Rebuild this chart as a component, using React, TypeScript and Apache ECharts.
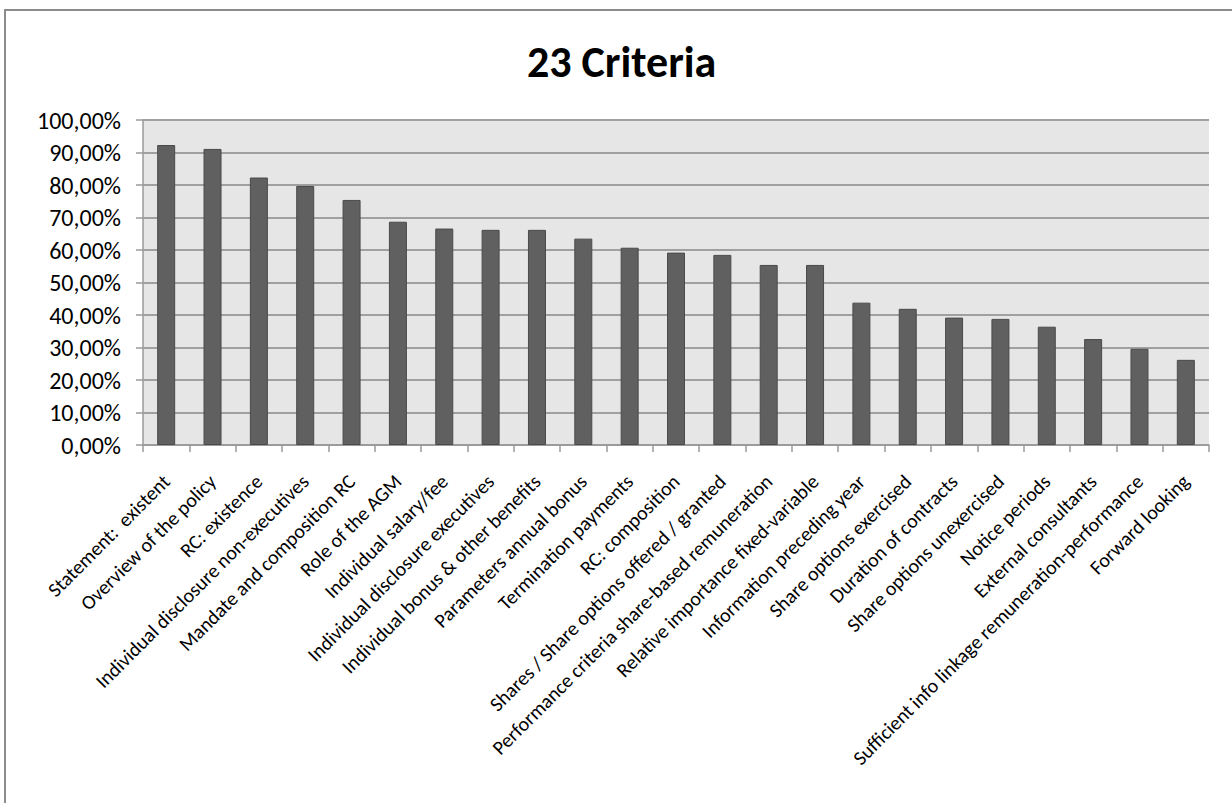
import React, { useEffect, useRef } from "react";
import * as echarts from "echarts";

const categories: string[] = [
  "Statement:  existent",
  "Overview of the policy",
  "RC: existence",
  "Individual disclosure non-executives",
  "Mandate and composition RC",
  "Role of the AGM",
  "Individual salary/fee",
  "Individual disclosure executives",
  "Individual bonus & other benefits",
  "Parameters annual bonus",
  "Termination payments",
  "RC: composition",
  "Shares / Share options offered / granted",
  "Performance criteria share-based remuneration",
  "Relative importance fixed-variable",
  "Information preceding year",
  "Share options exercised",
  "Duration of contracts",
  "Share options unexercised",
  "Notice periods",
  "External consultants",
  "Sufficient info linkage remuneration-performance",
  "Forward looking",
];

const values: number[] = [
  0.923, 0.911, 0.823, 0.797, 0.754, 0.687, 0.666, 0.662, 0.662, 0.635, 0.607,
  0.592, 0.585, 0.554, 0.554, 0.438, 0.419, 0.392, 0.388, 0.364, 0.326, 0.296,
  0.262,
];

const titleText = "23 Criteria";
const yMin = 0;
const yMax = 1;
const yStep = 0.1;

const FONT = "Carlito, Calibri, 'Liberation Sans Narrow', 'Open Sans', sans-serif";

export default function App() {
  const ref = useRef<HTMLDivElement>(null);
  useEffect(() => {
    if (!ref.current) return;
    const chart = echarts.init(ref.current, undefined, { renderer: "svg" });
    chart.setOption({
      animation: false,
      backgroundColor: "#ffffff",
      textStyle: { fontFamily: FONT },
      title: {
        text: titleText,
        left: 522,
        top: 35,
        textStyle: { fontFamily: FONT, fontSize: 44, fontWeight: "bold", color: "#000" },
      },
      graphic: [
        {
          type: "rect",
          shape: { x: 5, y: 10, width: 1260, height: 820 },
          style: { fill: "none", stroke: "#8c8c8c", lineWidth: 2 },
          silent: true,
        },
      ],
      grid: {
        left: 143,
        right: 23,
        top: 120,
        bottom: 358,
        show: true,
        backgroundColor: "#e6e6e6",
        borderWidth: 0,
      },
      xAxis: {
        type: "category",
        data: categories,
        axisLine: { show: true, lineStyle: { color: "#9a9a9a", width: 1.5 } },
        axisTick: { show: true, length: 7, lineStyle: { color: "#9a9a9a", width: 1.5 } },
        axisLabel: {
          interval: 0,
          rotate: 45,
          fontSize: 20,
          color: "#000",
          fontFamily: FONT,
          margin: 33,
        },
      },
      yAxis: {
        type: "value",
        min: yMin,
        max: yMax,
        interval: yStep,
        axisLine: { show: true, lineStyle: { color: "#9a9a9a", width: 1.5 } },
        axisTick: { show: true, length: 7, lineStyle: { color: "#9a9a9a", width: 1.5 } },
        splitLine: { show: true, lineStyle: { color: "#a0a0a0", width: 2 } },
        axisLabel: {
          fontSize: 24,
          color: "#000",
          fontFamily: FONT,
          margin: 22,
          formatter: (v: number) => (v * 100).toFixed(2).replace(".", ",") + "%",
        },
      },
      series: [
        {
          type: "bar",
          data: values,
          barWidth: 18,
          itemStyle: { color: "#606060", borderColor: "#4a4a4a", borderWidth: 1 },
        },
      ],
    });
    return () => chart.dispose();
  }, []);
  return (
    <div
      ref={ref}
      style={{ position: "absolute", left: 0, top: 0, width: 1232, height: 803 }}
    />
  );
}
